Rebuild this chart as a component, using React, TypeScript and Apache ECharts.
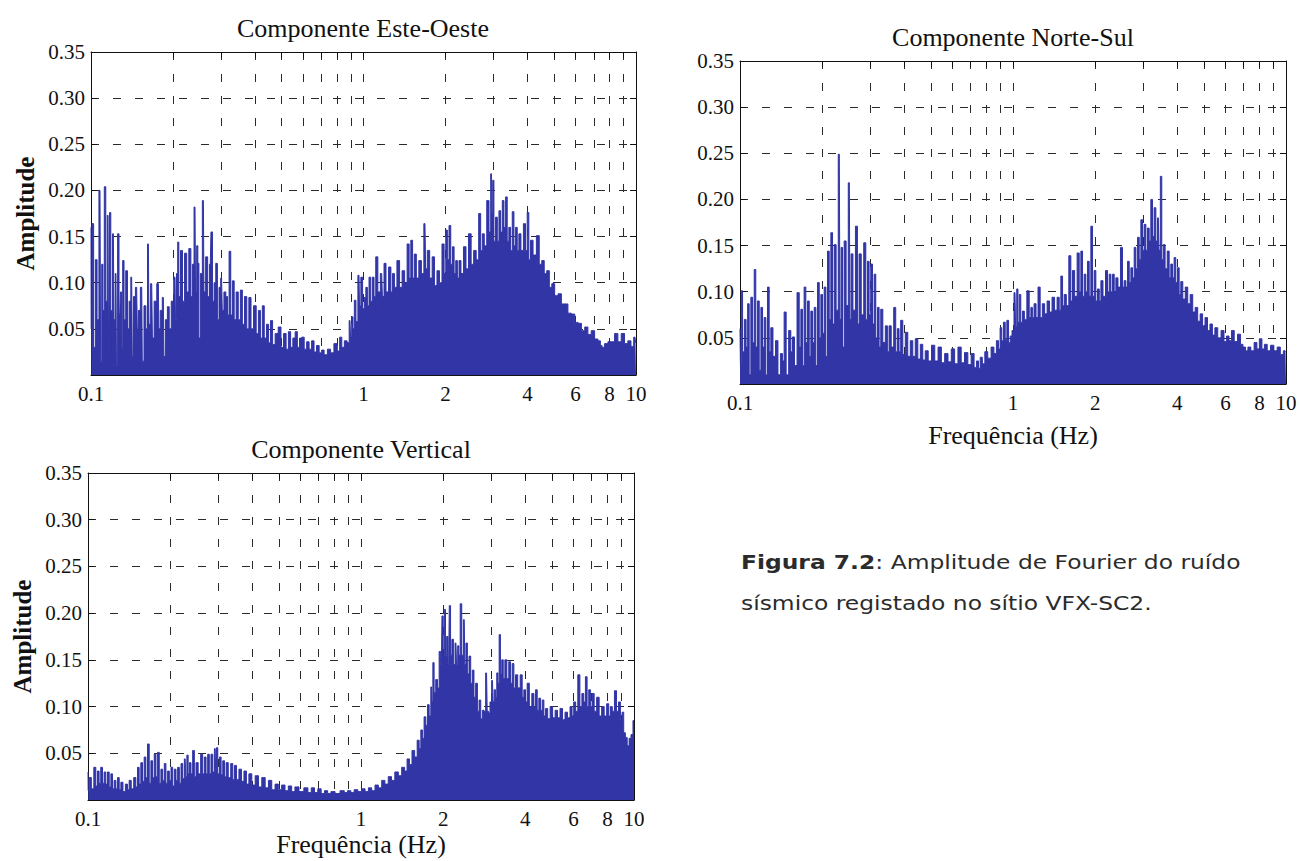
import React, { useEffect, useRef } from 'react';
import * as echarts from 'echarts';

// Fourier amplitude spectra of ambient seismic noise, [frequency (Hz), amplitude]
const esteOeste: [number, number][] = [
  [0.1, 0.16], [0.1003, 0.05], [0.1015, 0.164], [0.103, 0.03], [0.1045, 0.125], [0.106, 0.06],
  [0.1079, 0.2], [0.109, 0.015], [0.11, 0.12], [0.1112, 0.07], [0.1126, 0.204], [0.114, 0.08],
  [0.1155, 0.173], [0.1165, 0.03], [0.1174, 0.176], [0.119, 0.07], [0.1208, 0.153], [0.122, 0.06],
  [0.1235, 0.11], [0.1245, 0.01], [0.1259, 0.153], [0.1275, 0.065], [0.129, 0.09], [0.13, 0.03],
  [0.1314, 0.124], [0.133, 0.06], [0.1352, 0.113], [0.137, 0.05], [0.139, 0.08], [0.141, 0.106],
  [0.1425, 0.02], [0.144, 0.085], [0.1471, 0.095], [0.1485, 0.05], [0.15, 0.07], [0.1535, 0.095],
  [0.155, 0.015], [0.158, 0.075], [0.16, 0.05], [0.1624, 0.142], [0.164, 0.055], [0.167, 0.099],
  [0.169, 0.04], [0.172, 0.08], [0.1767, 0.099], [0.178, 0.05], [0.181, 0.07], [0.1843, 0.084],
  [0.186, 0.02], [0.189, 0.06], [0.1923, 0.074], [0.195, 0.05], [0.199, 0.08], [0.2034, 0.106],
  [0.205, 0.06], [0.207, 0.11], [0.2091, 0.144], [0.211, 0.085], [0.2152, 0.135], [0.218, 0.08],
  [0.223, 0.132], [0.226, 0.09], [0.2311, 0.137], [0.234, 0.085], [0.237, 0.12], [0.2408, 0.182],
  [0.243, 0.09], [0.2455, 0.14], [0.2478, 0.121], [0.25, 0.04], [0.254, 0.11], [0.2585, 0.189],
  [0.261, 0.09], [0.2659, 0.128], [0.27, 0.085], [0.274, 0.12], [0.2772, 0.155], [0.281, 0.08],
  [0.285, 0.1], [0.289, 0.121], [0.293, 0.06], [0.297, 0.095], [0.3014, 0.105], [0.305, 0.07],
  [0.31, 0.09], [0.315, 0.085], [0.319, 0.065], [0.3234, 0.134], [0.328, 0.065], [0.3326, 0.102],
  [0.338, 0.06], [0.344, 0.09], [0.35, 0.06], [0.3566, 0.092], [0.362, 0.055], [0.37, 0.085],
  [0.376, 0.05], [0.3832, 0.084], [0.39, 0.05], [0.3997, 0.075], [0.408, 0.045], [0.415, 0.07],
  [0.422, 0.04], [0.4287, 0.075], [0.436, 0.04], [0.445, 0.055], [0.452, 0.035], [0.4597, 0.059],
  [0.468, 0.033], [0.48, 0.045], [0.4929, 0.052], [0.503, 0.03], [0.515, 0.045], [0.525, 0.028],
  [0.5355, 0.047], [0.545, 0.03], [0.556, 0.04], [0.5667, 0.047], [0.577, 0.03], [0.588, 0.04],
  [0.5997, 0.041], [0.612, 0.028], [0.625, 0.036], [0.638, 0.028], [0.6519, 0.037], [0.665, 0.025],
  [0.68, 0.032], [0.695, 0.024], [0.7089, 0.027], [0.725, 0.022], [0.7496, 0.028], [0.765, 0.024],
  [0.793, 0.034], [0.81, 0.026], [0.825, 0.041], [0.84, 0.03], [0.8613, 0.037], [0.88, 0.035],
  [0.892, 0.059], [0.9, 0.042], [0.9101, 0.063], [0.92, 0.05], [0.931, 0.081], [0.945, 0.058],
  [0.9627, 0.108], [0.971, 0.075], [0.985, 0.106], [1.0, 0.072], [1.013, 0.084], [1.027, 0.095],
  [1.04, 0.075], [1.056, 0.106], [1.07, 0.08], [1.086, 0.106], [1.1, 0.085], [1.118, 0.128],
  [1.14, 0.09], [1.166, 0.11], [1.18, 0.085], [1.199, 0.121], [1.22, 0.09], [1.251, 0.117],
  [1.27, 0.09], [1.287, 0.11], [1.31, 0.095], [1.343, 0.124], [1.37, 0.095], [1.401, 0.113],
  [1.43, 0.1], [1.461, 0.142], [1.48, 0.105], [1.503, 0.146], [1.525, 0.105], [1.546, 0.131],
  [1.58, 0.105], [1.612, 0.124], [1.65, 0.11], [1.681, 0.164], [1.7, 0.115], [1.729, 0.135],
  [1.77, 0.105], [1.803, 0.128], [1.84, 0.097], [1.881, 0.113], [1.92, 0.1], [1.962, 0.142],
  [1.99, 0.11], [2.018, 0.157], [2.045, 0.125], [2.075, 0.162], [2.105, 0.12], [2.135, 0.139],
  [2.165, 0.11], [2.196, 0.124], [2.225, 0.105], [2.258, 0.124], [2.3, 0.11], [2.355, 0.139],
  [2.4, 0.115], [2.457, 0.153], [2.51, 0.12], [2.563, 0.135], [2.62, 0.125], [2.673, 0.175],
  [2.71, 0.135], [2.749, 0.153], [2.8, 0.14], [2.867, 0.189], [2.91, 0.155], [2.949, 0.218],
  [2.97, 0.175], [2.99, 0.211], [3.03, 0.145], [3.075, 0.171], [3.12, 0.145], [3.163, 0.178],
  [3.21, 0.155], [3.253, 0.189], [3.3, 0.16], [3.346, 0.193], [3.39, 0.145], [3.441, 0.16],
  [3.49, 0.135], [3.54, 0.177], [3.59, 0.14], [3.641, 0.16], [3.69, 0.135], [3.745, 0.153],
  [3.82, 0.135], [3.905, 0.164], [3.96, 0.135], [4.016, 0.176], [4.07, 0.125], [4.131, 0.146],
  [4.25, 0.13], [4.37, 0.151], [4.46, 0.12], [4.56, 0.124], [4.65, 0.11], [4.757, 0.113],
  [4.86, 0.095], [4.961, 0.099], [5.1, 0.086], [5.249, 0.088], [5.4, 0.077], [5.552, 0.077],
  [5.7, 0.067], [5.873, 0.066], [6.05, 0.057], [6.212, 0.056], [6.4, 0.048], [6.571, 0.052],
  [6.75, 0.044], [6.951, 0.048], [7.15, 0.039], [7.352, 0.037], [7.45, 0.032], [7.56, 0.03],
  [7.78, 0.034], [7.999, 0.036], [8.23, 0.036], [8.462, 0.045], [8.7, 0.036], [8.953, 0.045],
  [9.2, 0.034], [9.468, 0.037], [9.7, 0.031], [9.917, 0.041], [10.0, 0.035],
];

const norteSul: [number, number][] = [
  [0.1, 0.06], [0.1007, 0.02], [0.1014, 0.101], [0.103, 0.035], [0.1045, 0.07], [0.106, 0.04],
  [0.1073, 0.087], [0.1088, 0.01], [0.1104, 0.094], [0.112, 0.045], [0.1135, 0.124], [0.115, 0.04],
  [0.1167, 0.09], [0.1185, 0.015], [0.1201, 0.083], [0.1218, 0.04], [0.1235, 0.072], [0.1252, 0.01],
  [0.127, 0.105], [0.1288, 0.035], [0.1306, 0.061], [0.1335, 0.03], [0.1363, 0.047], [0.1392, 0.01],
  [0.1421, 0.033], [0.144, 0.025], [0.1462, 0.078], [0.149, 0.01], [0.1525, 0.058], [0.1545, 0.035],
  [0.1568, 0.051], [0.16, 0.02], [0.1636, 0.099], [0.166, 0.04], [0.1682, 0.081], [0.1705, 0.02],
  [0.173, 0.105], [0.1755, 0.045], [0.1781, 0.09], [0.1805, 0.03], [0.1831, 0.079], [0.1857, 0.045],
  [0.1883, 0.083], [0.191, 0.02], [0.1937, 0.11], [0.1965, 0.05], [0.1992, 0.097], [0.202, 0.055],
  [0.2049, 0.105], [0.2078, 0.03], [0.2107, 0.144], [0.2137, 0.07], [0.2167, 0.164], [0.2198, 0.065],
  [0.2229, 0.151], [0.227, 0.08], [0.2311, 0.249], [0.2335, 0.07], [0.2358, 0.148], [0.239, 0.04],
  [0.2425, 0.155], [0.247, 0.085], [0.2515, 0.218], [0.254, 0.07], [0.2565, 0.141], [0.262, 0.08],
  [0.2675, 0.171], [0.271, 0.065], [0.2751, 0.141], [0.281, 0.075], [0.2869, 0.153], [0.291, 0.07],
  [0.2951, 0.133], [0.299, 0.075], [0.3035, 0.13], [0.308, 0.065], [0.3121, 0.119], [0.3165, 0.05],
  [0.321, 0.083], [0.3255, 0.04], [0.3301, 0.081], [0.337, 0.045], [0.3443, 0.063], [0.349, 0.035],
  [0.3541, 0.063], [0.362, 0.04], [0.3693, 0.083], [0.3745, 0.035], [0.3798, 0.06], [0.385, 0.035],
  [0.3906, 0.069], [0.399, 0.032], [0.4074, 0.056], [0.416, 0.03], [0.425, 0.047], [0.434, 0.03],
  [0.4432, 0.049], [0.453, 0.027], [0.4623, 0.043], [0.472, 0.026], [0.4822, 0.036], [0.496, 0.025],
  [0.5099, 0.042], [0.524, 0.025], [0.539, 0.04], [0.554, 0.023], [0.57, 0.033], [0.586, 0.024],
  [0.6026, 0.038], [0.62, 0.022], [0.6372, 0.04], [0.655, 0.023], [0.6737, 0.034], [0.693, 0.021],
  [0.7123, 0.033], [0.728, 0.018], [0.7429, 0.025], [0.753, 0.017], [0.764, 0.029], [0.78, 0.022],
  [0.7969, 0.035], [0.82, 0.028], [0.8426, 0.04], [0.86, 0.033], [0.8789, 0.047], [0.89, 0.038],
  [0.9039, 0.061], [0.915, 0.047], [0.9297, 0.067], [0.943, 0.048], [0.9563, 0.069], [0.97, 0.045],
  [0.9836, 0.052], [1.0, 0.058], [1.0171, 0.099], [1.027, 0.062], [1.0371, 0.103], [1.048, 0.067],
  [1.0607, 0.097], [1.075, 0.067], [1.091, 0.079], [1.11, 0.07], [1.1381, 0.101], [1.155, 0.072],
  [1.1706, 0.083], [1.185, 0.072], [1.204, 0.087], [1.225, 0.072], [1.245, 0.105], [1.27, 0.072],
  [1.2912, 0.087], [1.32, 0.076], [1.347, 0.09], [1.375, 0.078], [1.4051, 0.094], [1.435, 0.08],
  [1.4658, 0.094], [1.487, 0.08], [1.5077, 0.117], [1.53, 0.085], [1.5507, 0.097], [1.585, 0.085],
  [1.6177, 0.139], [1.64, 0.09], [1.6637, 0.123], [1.7, 0.095], [1.7355, 0.142], [1.76, 0.1],
  [1.785, 0.144], [1.81, 0.095], [1.8359, 0.119], [1.86, 0.1], [1.8882, 0.133], [1.915, 0.095],
  [1.942, 0.171], [1.97, 0.095], [1.9973, 0.123], [2.025, 0.09], [2.0543, 0.103], [2.085, 0.09],
  [2.1128, 0.112], [2.16, 0.095], [2.204, 0.123], [2.235, 0.1], [2.2668, 0.119], [2.3, 0.1],
  [2.3314, 0.119], [2.365, 0.1], [2.3978, 0.115], [2.45, 0.105], [2.5014, 0.148], [2.535, 0.105],
  [2.5726, 0.112], [2.61, 0.105], [2.6459, 0.133], [2.685, 0.11], [2.7213, 0.126], [2.76, 0.115],
  [2.7989, 0.148], [2.84, 0.125], [2.8786, 0.159], [2.92, 0.135], [2.9607, 0.178], [3.0, 0.145],
  [3.045, 0.173], [3.09, 0.145], [3.1318, 0.169], [3.175, 0.155], [3.221, 0.2], [3.265, 0.16],
  [3.3128, 0.191], [3.36, 0.155], [3.4072, 0.18], [3.445, 0.145], [3.4847, 0.225], [3.53, 0.135],
  [3.5739, 0.151], [3.64, 0.125], [3.7053, 0.144], [3.76, 0.115], [3.8109, 0.13], [3.865, 0.115],
  [3.9195, 0.137], [3.975, 0.11], [4.0312, 0.126], [4.09, 0.097], [4.1461, 0.111], [4.23, 0.092],
  [4.3222, 0.105], [4.41, 0.087], [4.5058, 0.097], [4.6, 0.078], [4.6972, 0.083], [4.8, 0.068],
  [4.8966, 0.076], [5.0, 0.063], [5.1046, 0.072], [5.21, 0.058], [5.3214, 0.065], [5.43, 0.053],
  [5.5474, 0.061], [5.7, 0.05], [5.8664, 0.058], [5.99, 0.046], [6.1155, 0.052], [6.25, 0.047],
  [6.3752, 0.058], [6.55, 0.046], [6.742, 0.054], [6.88, 0.043], [7.0283, 0.04], [7.18, 0.036],
  [7.3268, 0.04], [7.54, 0.036], [7.748, 0.045], [7.9, 0.038], [8.0771, 0.049], [8.25, 0.038],
  [8.4201, 0.043], [8.65, 0.036], [8.9043, 0.042], [9.15, 0.036], [9.4165, 0.04], [9.65, 0.032],
  [9.9162, 0.036], [10.0, 0.035],
];

const vertical: [number, number][] = [
  [0.1, 0.03], [0.1003, 0.01], [0.1017, 0.024], [0.104, 0.012], [0.1061, 0.035], [0.1075, 0.015],
  [0.1091, 0.031], [0.1105, 0.018], [0.1122, 0.035], [0.1138, 0.018], [0.1154, 0.03], [0.117, 0.017],
  [0.1187, 0.03], [0.1205, 0.014], [0.1221, 0.028], [0.1238, 0.012], [0.1256, 0.021], [0.1274, 0.012],
  [0.1292, 0.024], [0.131, 0.011], [0.1329, 0.019], [0.1357, 0.009], [0.1385, 0.017], [0.1405, 0.011],
  [0.1425, 0.021], [0.1455, 0.012], [0.1486, 0.024], [0.1508, 0.014], [0.1529, 0.035], [0.155, 0.017],
  [0.1573, 0.04], [0.1595, 0.02], [0.1618, 0.046], [0.164, 0.024], [0.1664, 0.06], [0.1688, 0.018],
  [0.1712, 0.042], [0.1736, 0.024], [0.1761, 0.049], [0.1786, 0.025], [0.1811, 0.051], [0.1837, 0.018],
  [0.1863, 0.033], [0.189, 0.021], [0.1916, 0.039], [0.1943, 0.018], [0.1971, 0.031], [0.2, 0.021],
  [0.2028, 0.035], [0.2057, 0.015], [0.2086, 0.033], [0.2115, 0.021], [0.2145, 0.035], [0.2176, 0.018],
  [0.2207, 0.039], [0.2238, 0.023], [0.227, 0.044], [0.2292, 0.025], [0.2314, 0.048], [0.234, 0.028],
  [0.2367, 0.04], [0.24, 0.028], [0.2435, 0.053], [0.247, 0.025], [0.2505, 0.04], [0.256, 0.028],
  [0.2612, 0.049], [0.265, 0.028], [0.2687, 0.046], [0.2725, 0.028], [0.2763, 0.049], [0.28, 0.028],
  [0.2843, 0.049], [0.2885, 0.03], [0.2924, 0.055], [0.2945, 0.03], [0.2966, 0.056], [0.301, 0.028],
  [0.305, 0.046], [0.3095, 0.027], [0.3138, 0.042], [0.3185, 0.025], [0.3228, 0.04], [0.33, 0.024],
  [0.3366, 0.039], [0.3415, 0.022], [0.3462, 0.037], [0.3535, 0.022], [0.3609, 0.033], [0.369, 0.02],
  [0.3763, 0.031], [0.3845, 0.017], [0.3924, 0.028], [0.404, 0.016], [0.4153, 0.026], [0.427, 0.014],
  [0.4393, 0.024], [0.452, 0.013], [0.4642, 0.021], [0.478, 0.011], [0.4908, 0.017], [0.505, 0.011],
  [0.5194, 0.016], [0.534, 0.01], [0.5495, 0.015], [0.565, 0.009], [0.5808, 0.014], [0.605, 0.009],
  [0.6303, 0.013], [0.648, 0.008], [0.6666, 0.013], [0.685, 0.008], [0.7043, 0.012], [0.725, 0.007],
  [0.7448, 0.01], [0.765, 0.007], [0.7873, 0.009], [0.82, 0.007], [0.8563, 0.01], [0.88, 0.008],
  [0.9056, 0.01], [0.93, 0.008], [0.9578, 0.011], [0.99, 0.009], [1.02, 0.012], [1.05, 0.009],
  [1.079, 0.013], [1.11, 0.01], [1.141, 0.016], [1.175, 0.013], [1.207, 0.021], [1.24, 0.017],
  [1.277, 0.025], [1.31, 0.021], [1.351, 0.03], [1.39, 0.026], [1.429, 0.035], [1.46, 0.031],
  [1.49, 0.044], [1.52, 0.038], [1.555, 0.053], [1.59, 0.046], [1.622, 0.064], [1.645, 0.055],
  [1.668, 0.075], [1.69, 0.066], [1.715, 0.089], [1.74, 0.08], [1.764, 0.102], [1.79, 0.09],
  [1.814, 0.121], [1.827, 0.105], [1.84, 0.147], [1.865, 0.115], [1.892, 0.129], [1.92, 0.12],
  [1.946, 0.159], [1.97, 0.145], [1.99, 0.197], [2.01, 0.155], [2.029, 0.204], [2.05, 0.155],
  [2.07, 0.175], [2.095, 0.145], [2.117, 0.208], [2.14, 0.155], [2.165, 0.172], [2.195, 0.145],
  [2.227, 0.168], [2.25, 0.145], [2.271, 0.165], [2.295, 0.155], [2.323, 0.21], [2.355, 0.155],
  [2.389, 0.193], [2.41, 0.145], [2.436, 0.168], [2.47, 0.135], [2.505, 0.154], [2.54, 0.125],
  [2.576, 0.139], [2.61, 0.11], [2.65, 0.125], [2.69, 0.095], [2.725, 0.107], [2.765, 0.087],
  [2.803, 0.096], [2.84, 0.095], [2.883, 0.136], [2.915, 0.095], [2.947, 0.093], [2.99, 0.105],
  [3.031, 0.128], [3.06, 0.105], [3.091, 0.118], [3.125, 0.11], [3.161, 0.136], [3.19, 0.125],
  [3.224, 0.177], [3.26, 0.135], [3.297, 0.15], [3.34, 0.13], [3.391, 0.15], [3.45, 0.13],
  [3.507, 0.148], [3.555, 0.125], [3.606, 0.146], [3.655, 0.12], [3.709, 0.134], [3.79, 0.12],
  [3.868, 0.134], [3.92, 0.11], [3.978, 0.118], [4.03, 0.105], [4.092, 0.125], [4.18, 0.1],
  [4.268, 0.114], [4.33, 0.1], [4.39, 0.118], [4.45, 0.096], [4.514, 0.109], [4.58, 0.096],
  [4.643, 0.107], [4.71, 0.09], [4.776, 0.098], [4.88, 0.087], [4.98, 0.1], [5.09, 0.088],
  [5.194, 0.096], [5.3, 0.088], [5.417, 0.098], [5.53, 0.086], [5.649, 0.094], [5.77, 0.088],
  [5.891, 0.1], [5.97, 0.09], [6.059, 0.105], [6.17, 0.095], [6.283, 0.134], [6.39, 0.1],
  [6.5, 0.114], [6.59, 0.105], [6.686, 0.132], [6.78, 0.1], [6.877, 0.118], [6.97, 0.1],
  [7.073, 0.114], [7.22, 0.095], [7.376, 0.11], [7.53, 0.09], [7.693, 0.1], [7.86, 0.09],
  [8.024, 0.103], [8.14, 0.09], [8.253, 0.1], [8.4, 0.095], [8.56, 0.117], [8.7, 0.095],
  [8.856, 0.105], [8.98, 0.086], [9.107, 0.094], [9.23, 0.072], [9.366, 0.067], [9.52, 0.058],
  [9.67, 0.066], [9.83, 0.07], [10.0, 0.085],
];

// axis ticks (minor decades of the log scale) and labelled frequencies
const FREQ_TICKS = [0.2, 0.3, 0.4, 0.5, 0.6, 0.7, 0.8, 0.9, 1, 2, 3, 4, 5, 6, 7, 8, 9];
const FREQ_LABELS = [0.1, 1, 2, 4, 6, 8, 10];
const FREQ_MIN = 0.1;
const FREQ_MAX = 10;
const AMP_MAX = 0.35;
const AMP_STEP = 0.05;

const TITLES = ['Componente Este-Oeste', 'Componente Norte-Sul', 'Componente Vertical'];
const SERIES = [esteOeste, norteSul, vertical];
const X_NAME = 'Frequência (Hz)';
const Y_NAME = 'Amplitude';
const CAPTION_BOLD = 'Figura 7.2';
const CAPTION_LINE_1 = ': Amplitude de Fourier do ruído';
const CAPTION_LINE_2 = 'sísmico registado no sítio VFX-SC2.';

const SERIF = "'Liberation Serif', 'Times New Roman', serif";
const SANS = "'DejaVu Sans', Verdana, sans-serif";
const INK = '#111';
const CAPTION_INK = '#2b2b2b';
const BLUE = '#3135a6';

const PANELS = [
  { left: 91, top: 52, width: 545, height: 323, titleX: 363, titleY: 28, yName: true, xName: false, xGap: 40 },
  { left: 740, top: 61, width: 546, height: 323, titleX: 1013, titleY: 37, yName: false, xName: true, xGap: 38 },
  { left: 88, top: 473, width: 546, height: 327, titleX: 361, titleY: 449, yName: true, xName: true, xGap: 31 },
];

const lg = (f: number) => Math.min(1, Math.max(-1, Math.log10(f)));
const freqLabel = (v: number) => {
  const f = Math.pow(10, v);
  return f < 0.95 ? f.toFixed(1) : String(Math.round(f));
};

function buildOption() {
  const grid: any[] = [];
  const xAxis: any[] = [];
  const yAxis: any[] = [];
  const series: any[] = [];
  const graphic: any[] = [];
  const gridLine = { show: true, lineStyle: { color: '#2a2a2a', width: 1, type: [8, 14] } };
  const boxLine = { show: true, onZero: false, lineStyle: { color: INK, width: 1 } };
  const tickValues = FREQ_TICKS.map(lg);

  PANELS.forEach((p, i) => {
    grid.push({ left: p.left, top: p.top, width: p.width, height: p.height, containLabel: false, outerBoundsMode: 'none' });

    // data axis (logarithmic frequency)
    xAxis.push({ type: 'log', logBase: 10, gridIndex: i, min: FREQ_MIN, max: FREQ_MAX, show: false });
    // decade ticks, labels and grid on a log10 coordinate
    xAxis.push({
      type: 'value', gridIndex: i, position: 'bottom', min: -1, max: 1,
      axisLine: boxLine,
      axisTick: { show: true, inside: true, length: 6, customValues: tickValues, lineStyle: { color: INK } },
      axisLabel: {
        show: true, customValues: FREQ_LABELS.map(lg), formatter: freqLabel,
        fontFamily: SERIF, fontSize: 21, color: INK, margin: 8,
      },
      splitLine: gridLine,
      name: p.xName ? X_NAME : '', nameLocation: 'middle', nameGap: p.xGap,
      nameTextStyle: { fontFamily: SERIF, fontSize: 26, color: INK },
    });
    xAxis.push({
      type: 'value', gridIndex: i, position: 'top', min: -1, max: 1,
      axisLine: boxLine,
      axisTick: { show: true, inside: true, length: 6, customValues: tickValues, lineStyle: { color: INK } },
      axisLabel: { show: false },
      splitLine: { show: false },
    });

    yAxis.push({
      type: 'value', gridIndex: i, position: 'left', min: 0, max: AMP_MAX, interval: AMP_STEP,
      axisLine: boxLine,
      axisTick: { show: true, inside: true, length: 6, lineStyle: { color: INK } },
      axisLabel: {
        formatter: (v: number) => (v < 1e-9 ? '' : v.toFixed(2)),
        fontFamily: SERIF, fontSize: 21, color: INK, margin: 6,
      },
      splitLine: gridLine,
      name: p.yName ? Y_NAME : '', nameLocation: 'middle', nameGap: 53, nameRotate: 90,
      nameTextStyle: { fontFamily: SERIF, fontSize: 25, fontWeight: 'bold', color: INK },
    });
    yAxis.push({
      type: 'value', gridIndex: i, position: 'right', min: 0, max: AMP_MAX, interval: AMP_STEP,
      axisLine: boxLine,
      axisTick: { show: true, inside: true, length: 6, lineStyle: { color: INK } },
      axisLabel: { show: false },
      splitLine: { show: false },
    });

    series.push({
      type: 'line', name: TITLES[i], xAxisIndex: i * 3, yAxisIndex: i * 2,
      data: SERIES[i], showSymbol: false, symbol: 'none', step: 'middle',
      lineStyle: { color: BLUE, width: 1 },
      areaStyle: { color: BLUE, opacity: 1 },
      itemStyle: { color: BLUE },
      clip: true, z: 2,
    });

    graphic.push({
      type: 'text', x: p.titleX, y: p.titleY,
      style: {
        text: TITLES[i], fill: INK, fontFamily: SERIF, fontSize: 26,
        align: 'center', verticalAlign: 'middle', textAlign: 'center', textVerticalAlign: 'middle',
      },
    });
  });

  // figure caption, set in a wide sans face
  graphic.push({
    type: 'text', x: 741, y: 562, scaleX: 1.17,
    style: {
      text: `{b|${CAPTION_BOLD}}${CAPTION_LINE_1}`,
      fill: CAPTION_INK, fontFamily: SANS, fontSize: 20,
      align: 'left', verticalAlign: 'middle', textAlign: 'left', textVerticalAlign: 'middle',
      rich: { b: { fontFamily: SANS, fontSize: 20, fontWeight: 'bold', fill: CAPTION_INK, color: CAPTION_INK } },
    },
  });
  graphic.push({
    type: 'text', x: 741, y: 603, scaleX: 1.17,
    style: {
      text: CAPTION_LINE_2, fill: CAPTION_INK, fontFamily: SANS, fontSize: 20,
      align: 'left', verticalAlign: 'middle', textAlign: 'left', textVerticalAlign: 'middle',
    },
  });

  return { animation: false, backgroundColor: '#fff', grid, xAxis, yAxis, series, graphic };
}

export default function App() {
  const ref = useRef<HTMLDivElement>(null);
  useEffect(() => {
    if (!ref.current) return;
    const chart = echarts.init(ref.current, undefined, { renderer: 'svg' });
    chart.setOption(buildOption() as any);
    return () => chart.dispose();
  }, []);
  return (
    <div
      ref={ref}
      style={{ position: 'absolute', left: 0, top: 0, width: 1300, height: 861, background: '#fff' }}
    />
  );
}
